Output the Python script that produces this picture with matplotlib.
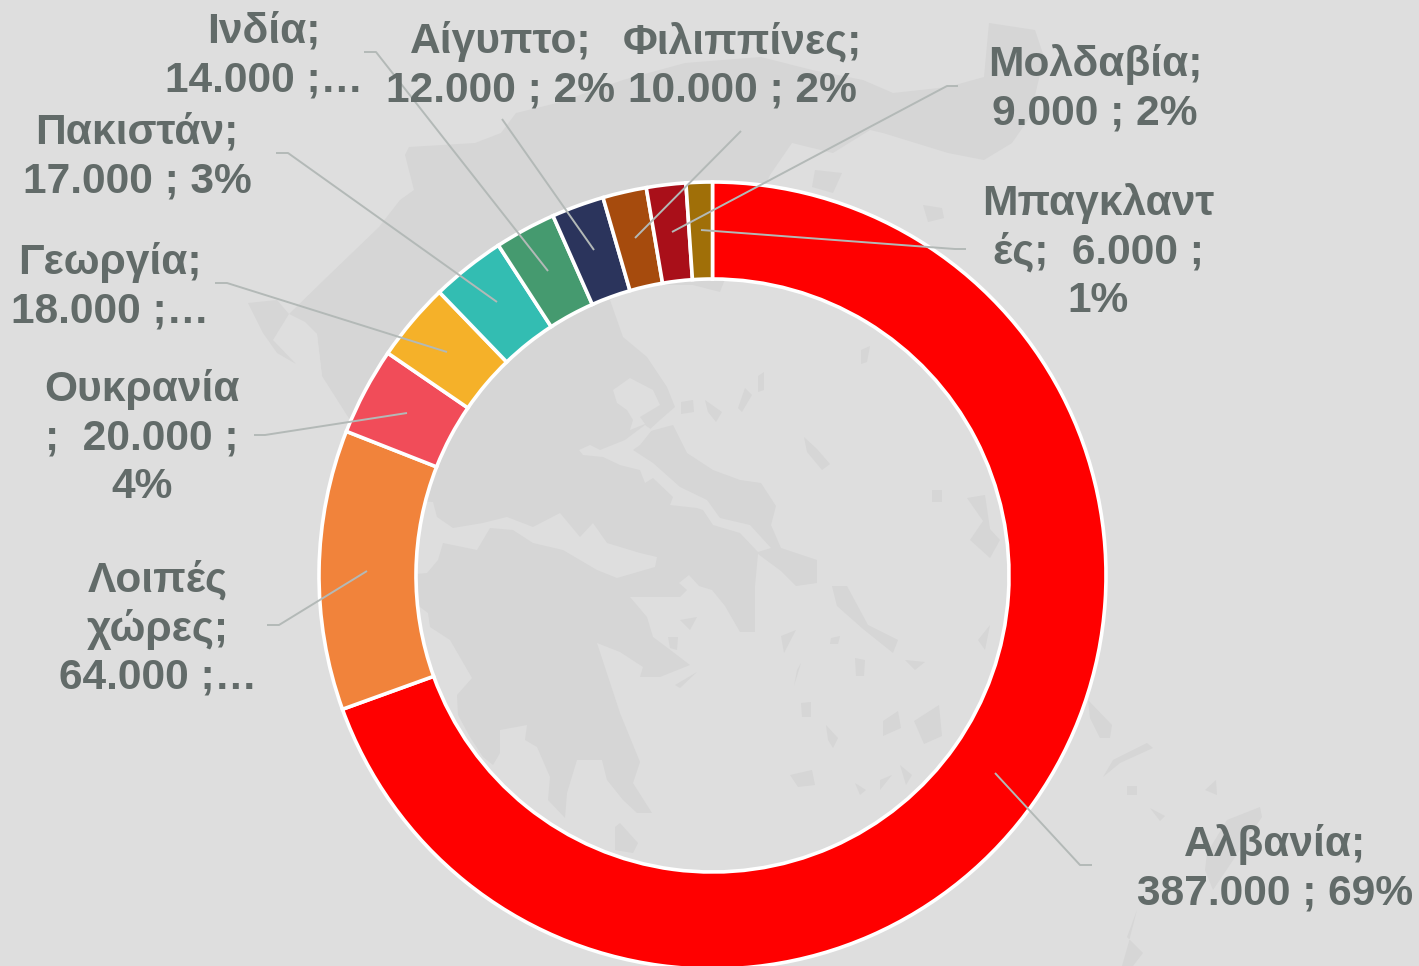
import matplotlib
matplotlib.use("Agg")
import matplotlib.pyplot as plt

W, H = 1419, 966
SEA = "#dedede"
LAND = "#d6d6d6"
TEXT = "#626b69"
LEADER = "#b3b9b7"

countries = ["Αλβανία", "Λοιπές χώρες", "Ουκρανία", "Γεωργία", "Πακιστάν",
             "Ινδία", "Αίγυπτος", "Φιλιππίνες", "Μολδαβία", "Μπαγκλαντές"]
values = [387000, 64000, 20000, 18000, 17000, 14000, 12000, 10000, 9000, 6000]
colors = ["#ff0000", "#f1833b", "#f14c59", "#f5b129", "#33bdb2",
          "#459a6f", "#2b345c", "#a64b0d", "#a90f19", "#a06f08"]
labels = ["Αλβανία;\n387.000 ; 69%", "Λοιπές\nχώρες;\n64.000 ;…", "Ουκρανία\n;  20.000 ;\n4%",
          "Γεωργία;\n18.000 ;…", "Πακιστάν;\n17.000 ; 3%", "Ινδία;\n14.000 ;…",
          "Αίγυπτο;\n12.000 ; 2%", "Φιλιππίνες;\n10.000 ; 2%", "Μολδαβία;\n9.000 ; 2%",
          "Μπαγκλαντ\nές;  6.000 ;\n1%"]

label_pos = [(1275, 869), (158, 629), (142, 438), (110, 287), (137, 157),
             (264, 56), (501, 66), (742, 66), (1095, 89), (1098, 252)]
leaders = [
    [(995, 773), (1080, 865), (1092, 865)],
    [(367, 571), (279, 625), (267, 625)],
    [(407, 413), (265, 435), (254, 435)],
    [(447, 352), (227, 283), (215, 283)],
    [(497, 302), (288, 153), (276, 153)],
    [(548, 271), (376, 52), (364, 52)],
    [(594, 250), (502, 119)],
    [(635, 238), (741, 131)],
    [(672, 232), (947, 86), (958, 86)],
    [(701, 230), (955, 249), (966, 249)],
]

# Faint background map of Greece, traced in image pixels
land_shapes = [
    [(327,277),(379,227),(400,200),(414,190),(405,155),(409,147),(475,143),(501,133),(516,113),(557,103),
     (623,80),(685,63),(761,57),(812,70),(863,80),(893,93),(948,87),(984,77),(989,23),(1035,30),(1044,57),
     (1030,117),(1012,143),(984,160),(948,153),(883,133),(870,130),(833,153),(792,143),(770,175),(740,240),
     (720,292),(693,285),(640,285),(610,300),(623,337),(647,357),(667,387),(675,407),(660,420),(647,432),
     (673,425),(687,453),(713,470),(740,480),(761,483),(776,506),(771,525),(781,548),(817,560),(817,583),
     (796,586),(781,571),(758,554),(755,586),(755,632),(740,632),(725,606),(712,590),(699,586),(689,575),
     (679,583),(687,590),(680,597),(630,597),(647,617),(653,637),(673,652),(690,665),(660,677),(640,677),
     (643,667),(620,652),(597,643),(620,713),(640,762),(633,783),(652,813),(637,813),(623,800),(607,780),
     (602,760),(577,760),(567,793),(565,818),(548,800),(550,777),(537,747),(525,740),(527,725),(500,730),
     (500,753),(493,765),(483,757),(470,737),(458,715),(457,695),(472,678),(450,640),(430,627),(428,613),
     (420,607),(395,600),(400,500),(350,420),(322,376),(317,334),(289,314)],
]
sea_shapes = [
    # Gulf of Corinth
    [(400,500),(433,502),(437,517),(453,528),(483,523),(507,517),(533,527),(560,513),(580,537),(593,523),
     (607,543),(640,553),(657,557),(655,567),(617,578),(597,570),(563,550),(533,543),(513,530),(490,528),
     (477,550),(443,543),(438,560),(427,573),(405,575)],
    # northern strait
    [(579,450),(590,445),(600,450),(625,440),(645,425),(652,430),(640,445),(633,450),(653,463),(680,487),
     (707,500),(720,518),(750,525),(771,548),(758,552),(740,533),(713,525),(703,510),(697,508),(670,505),
     (673,497),(653,478),(645,483),(640,470),(620,465),(603,457),(583,455)],
    # bay
    [(613,390),(630,378),(653,390),(660,405),(640,417),(645,424),(630,430),(633,420),(627,410),(617,403)],
    # Corfu channel
    [(289,314),(305,322),(317,334),(322,376),(300,340)],
]
island_shapes = [
    [(248,303),(277,300),(289,314),(273,340),(296,364),(277,353),(263,333)],
    [(815,170),(842,173),(833,193),(812,187)],
    [(923,205),(942,208),(944,218),(928,222)],
    [(613,450),(633,446),(625,455)],
    [(804,437),(817,449),(830,464),(822,470),(807,452)],
    [(861,350),(870,346),(867,362),(861,364)],
    [(758,376),(764,372),(764,390),(758,392)],
    [(745,388),(752,395),(742,412),(738,408)],
    [(681,402),(693,400),(694,412),(681,414)],
    [(705,400),(722,412),(716,422),(708,412)],
    [(932,490),(942,490),(942,502),(932,502)],
    [(967,498),(985,495),(990,529),(1000,540),(990,558),(970,540),(983,521)],
    [(832,586),(847,586),(868,625),(898,640),(893,653),(863,629),(837,606)],
    [(796,630),(784,653),(781,636)],
    [(831,638),(840,636),(838,644),(830,644)],
    [(855,658),(865,660),(864,676),(856,676)],
    [(905,660),(925,662),(915,670)],
    [(801,663),(794,686),(797,670)],
    [(801,703),(811,702),(811,717),(802,717)],
    [(939,705),(942,736),(924,744),(914,721)],
    [(898,711),(901,728),(883,736),(883,721)],
    [(826,725),(838,738),(833,748),(828,740)],
    [(790,775),(812,770),(815,785),(798,787)],
    [(900,765),(912,775),(906,785)],
    [(880,780),(892,775),(880,790)],
    [(855,783),(866,790),(860,795)],
    [(680,620),(697,617),(690,630)],
    [(668,637),(678,637),(677,650),(670,648)],
    [(675,685),(697,672),(680,688)],
    [(615,827),(620,823),(638,843),(633,853),(615,850)],
    [(978,640),(990,625),(985,650)],
    [(1088,700),(1112,725),(1110,738),(1100,738),(1090,718)],
    [(1113,760),(1147,743),(1153,748),(1120,763),(1103,777)],
    [(1127,786),(1137,786),(1137,795),(1127,795)],
    [(1150,808),(1165,816),(1160,821)],
    [(1205,790),(1216,780),(1217,795)],
    [(1260,807),(1262,817),(1213,890),(1205,870),(1207,853),(1227,820)],
    [(1137,910),(1127,937),(1143,953),(1133,966),(1122,966),(1128,945)],
]

fig = plt.figure(figsize=(W / 100, H / 100), dpi=100, facecolor=SEA)
ax = fig.add_axes([0, 0, 1, 1])
ax.set_facecolor(SEA)


def fy(pts):
    return [(x, H - y) for x, y in pts]


for shape in land_shapes + island_shapes:
    ax.fill(*zip(*fy(shape)), color=LAND, lw=0, zorder=1)
for shape in sea_shapes:
    ax.fill(*zip(*fy(shape)), color=SEA, lw=0, zorder=1.5)

ax.pie(values, colors=colors, center=(712.5, H - 575.5), radius=393.5, startangle=90,
       counterclock=False,
       wedgeprops=dict(width=97, edgecolor="white", linewidth=2.6, zorder=2))

for pts in leaders:
    xs, ys = zip(*fy(pts))
    ax.plot(xs, ys, color=LEADER, lw=1.4, zorder=3, solid_capstyle="butt")

for text, (x, y) in zip(labels, label_pos):
    ax.text(x, H - y, text, ha="center", va="center", ma="center", fontsize=30.6,
            fontweight="bold", family="Liberation Sans", color=TEXT, linespacing=1.26, zorder=4)

ax.set_xlim(0, W)
ax.set_ylim(0, H)
ax.set_aspect("auto")
ax.axis("off")
fig.savefig("out.png", dpi=100, facecolor=SEA)
